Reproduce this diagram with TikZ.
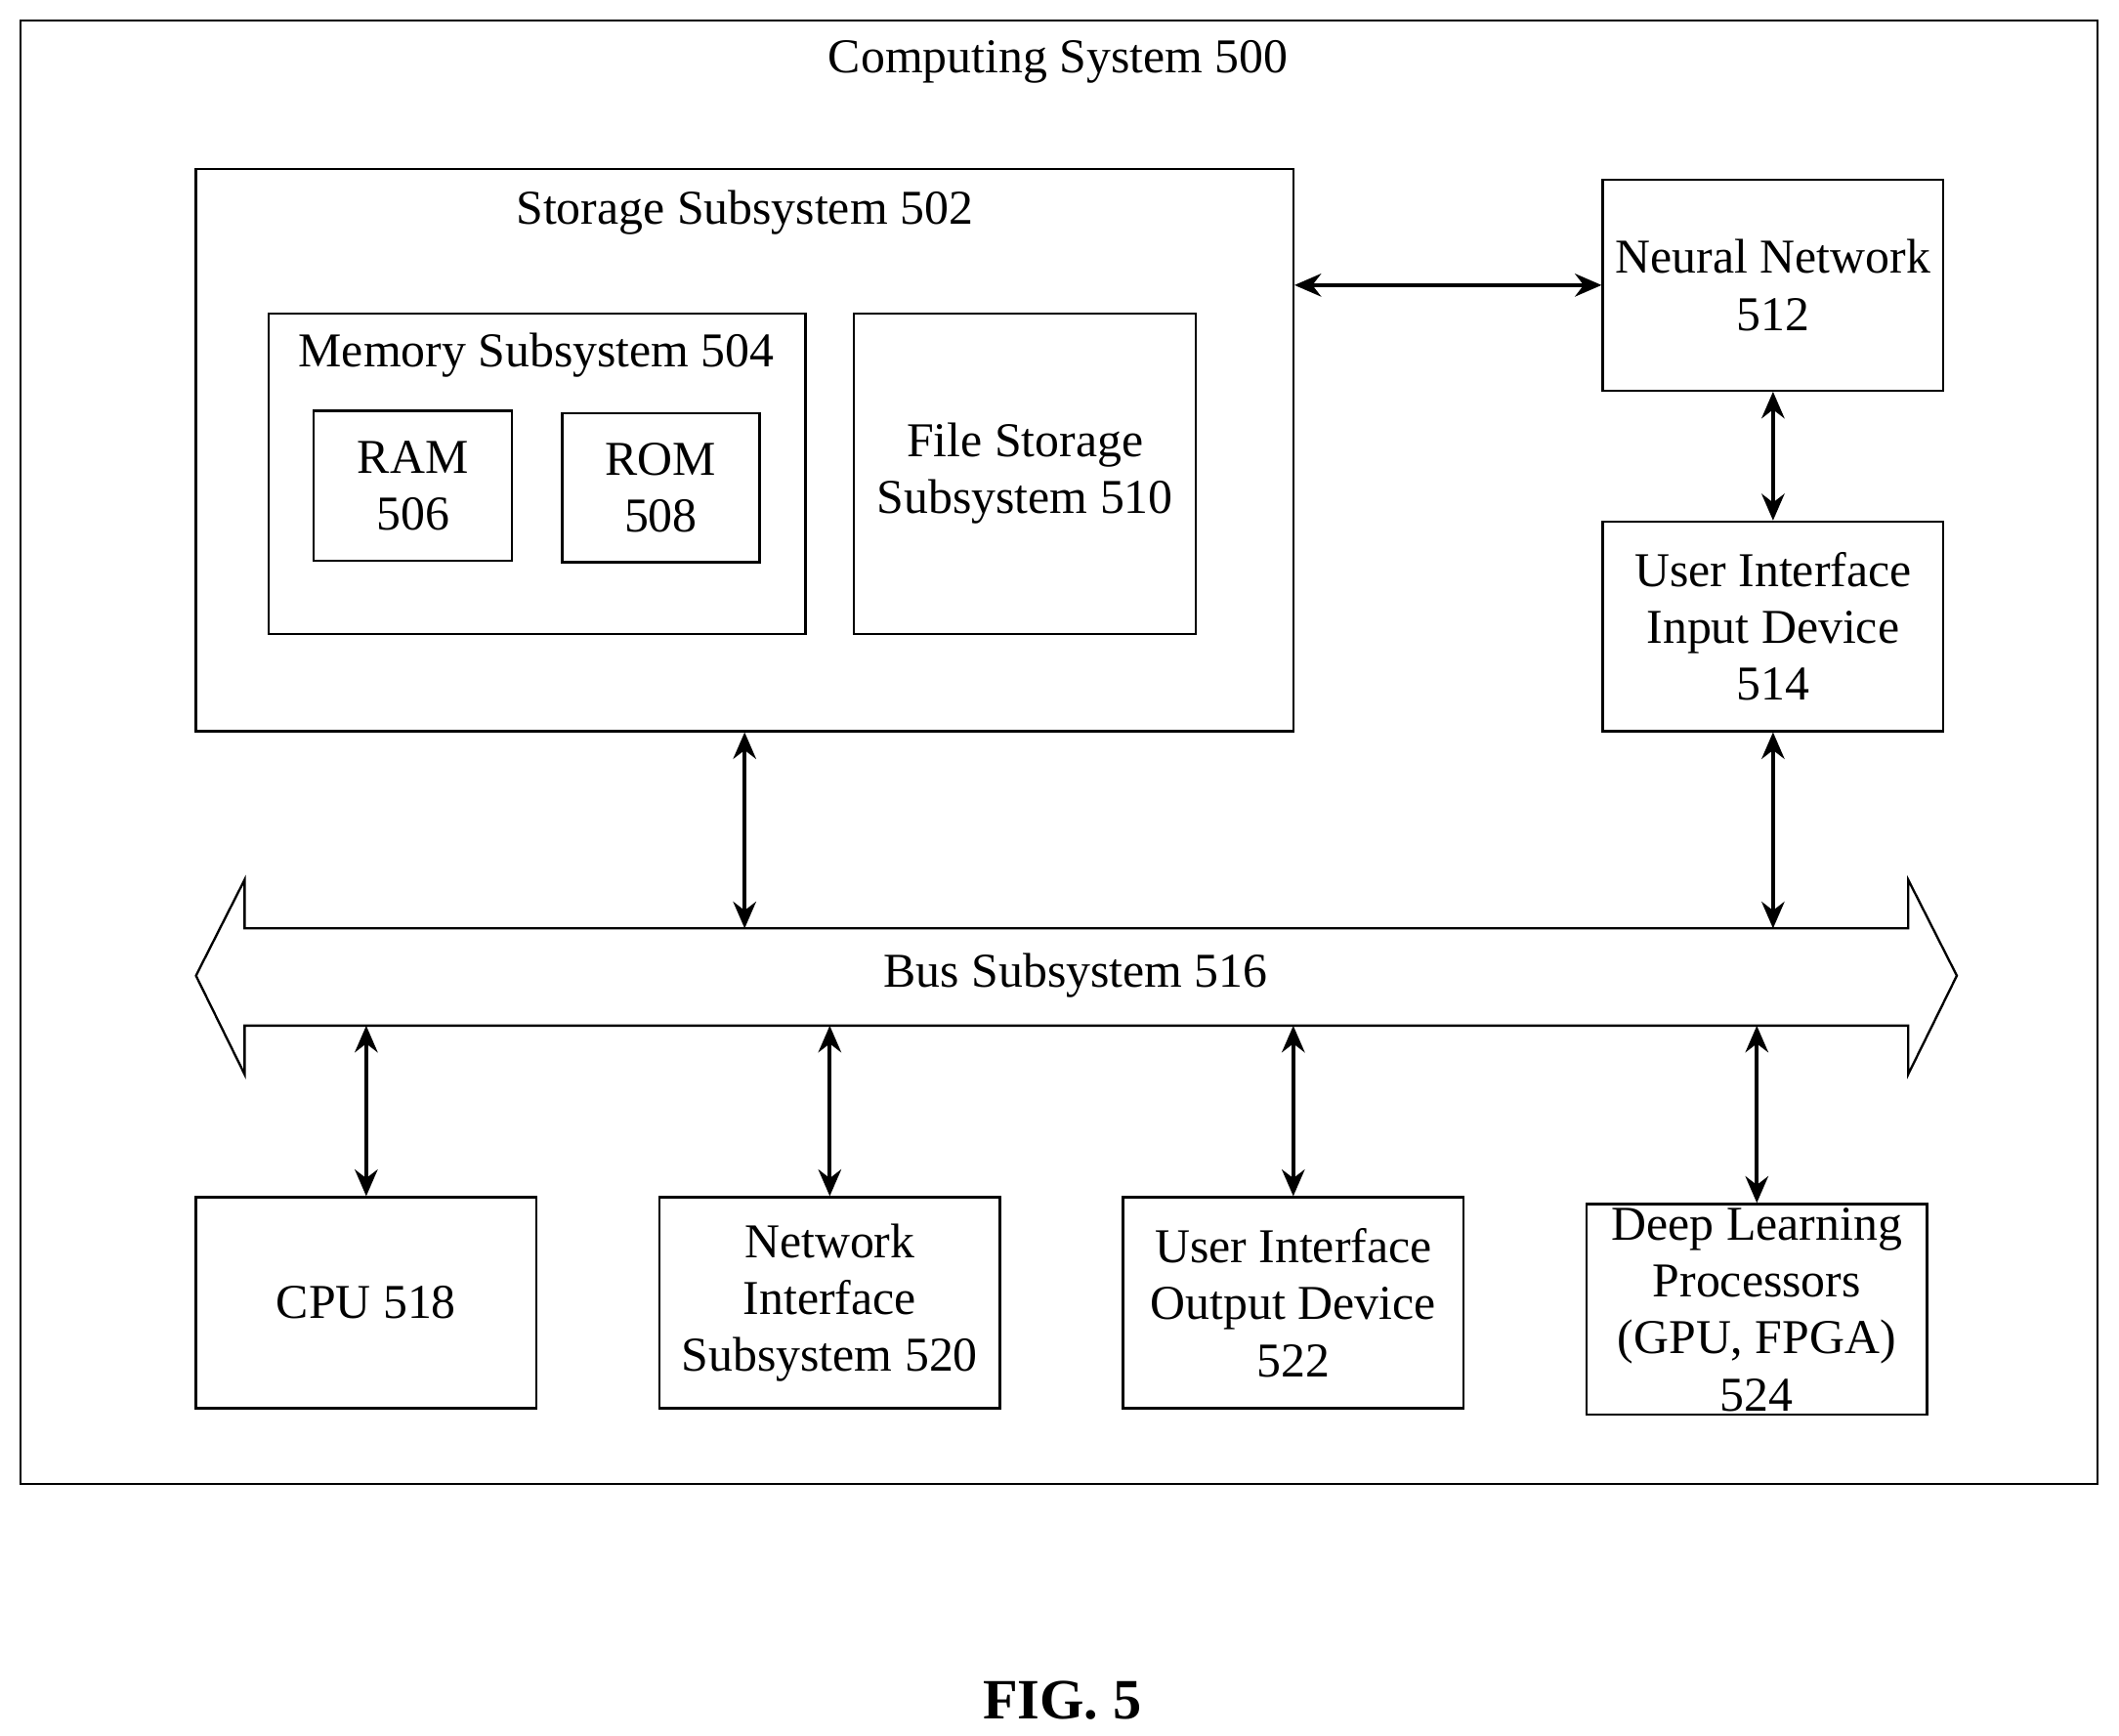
\documentclass[tikz,border=0pt]{standalone}
\usepackage{fontspec}
\setmainfont{Liberation Serif}
\usetikzlibrary{arrows.meta}
\begin{document}
\begin{tikzpicture}[x=0.0125cm,y=-0.0125cm,
  box/.style={draw,line width=0.6pt,align=center,inner sep=0pt},
  txt/.style={align=center,inner sep=0pt},
  con/.style={line width=1.1pt,{Stealth[length=7pt,width=6pt]}-{Stealth[length=7pt,width=6pt]}},
  every node/.style={font=\fontsize{12.8}{15}\selectfont}]
\useasboundingbox (0,0) rectangle (1568,1284);
\node[box,minimum width=1537*0.0125cm,minimum height=1083*0.0125cm] (outer) at (783.5,556.5) {};
\node[txt] (t0) at (783,46) {Computing System 500};
\node[box,minimum width=812*0.0125cm,minimum height=416*0.0125cm] (stor) at (551,333) {};
\node[txt] (t1) at (551,157) {Storage Subsystem 502};
\node[box,minimum width=397*0.0125cm,minimum height=237*0.0125cm] (mem) at (397.5,350.5) {};
\node[txt] (t2) at (397,263) {Memory Subsystem 504};
\node[box,minimum width=147*0.0125cm,minimum height=111*0.0125cm] (ram) at (305.5,359.5) {RAM\\506};
\node[box,minimum width=146*0.0125cm,minimum height=110*0.0125cm] (rom) at (489,361) {ROM\\508};
\node[box,minimum width=253*0.0125cm,minimum height=237*0.0125cm] (file) at (758.5,350.5) {File Storage\\Subsystem 510};
\node[box,minimum width=252*0.0125cm,minimum height=156*0.0125cm] (nn) at (1312,211) {Neural Network\\512};
\node[box,minimum width=252*0.0125cm,minimum height=155*0.0125cm] (uii) at (1312,463.5) {User Interface\\Input Device\\514};
\draw[line width=0.6pt] (181,687) -- (1412,687) -- (1412,651) -- (1448,722) -- (1412,795) -- (1412,759)
  -- (181,759) -- (181,795) -- (145,722) -- (181,651) -- cycle;
\node[txt] (bus) at (796,722) {Bus Subsystem 516};
\coordinate (bt) at (0,687);
\coordinate (bb) at (0,759);
\node[box,minimum width=252*0.0125cm,minimum height=156*0.0125cm] (cpu) at (271,964) {CPU 518};
\node[box,minimum width=252*0.0125cm,minimum height=156*0.0125cm] (net) at (614,964) {Network\\Interface\\Subsystem 520};
\node[box,minimum width=252*0.0125cm,minimum height=156*0.0125cm] (uio) at (957,964) {User Interface\\Output Device\\522};
\node[box,minimum width=252*0.0125cm,minimum height=156*0.0125cm] (dl) at (1300,969) {Deep Learning\\Processors\\(GPU, FPGA)\\524};
\node[txt,font=\fontsize{15}{18}\selectfont\bfseries] (fig) at (786,1258) {FIG. 5};
\draw[con] (stor.east |- nn) -- (nn.west);
\draw[con] (nn) -- (uii);
\draw[con] (stor.south) -- (stor.south |- bt);
\draw[con] (uii.south) -- (uii.south |- bt);
\draw[con] (cpu.north |- bb) -- (cpu.north);
\draw[con] (net.north |- bb) -- (net.north);
\draw[con] (uio.north |- bb) -- (uio.north);
\draw[con] (dl.north |- bb) -- (dl.north);
\end{tikzpicture}
\end{document}
